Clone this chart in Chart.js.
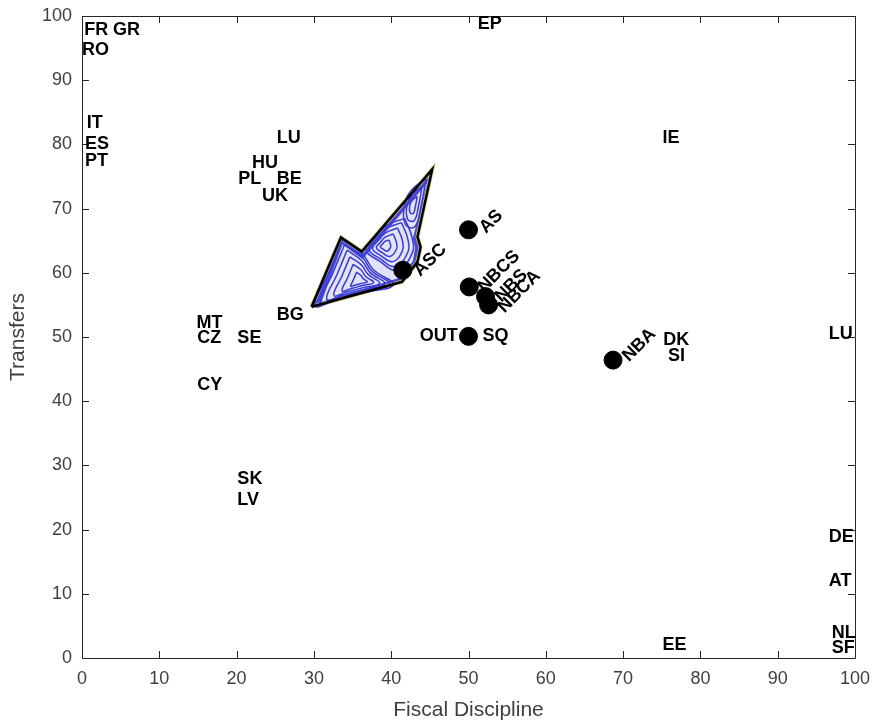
<!DOCTYPE html>
<html><head><meta charset="utf-8">
<script src="https://cdn.jsdelivr.net/npm/chart.js"></script>
<style>html,body{margin:0;padding:0;background:#fff;overflow:hidden}</style>
</head><body>
<canvas id="c" width="873" height="721"></canvas>
<script>
// ---- data ----
const xTicks = [0,10,20,30,40,50,60,70,80,90,100];
const yTicks = [0,10,20,30,40,50,60,70,80,90,100];
const xTitle = 'Fiscal Discipline';
const yTitle = 'Transfers';

const countryNames = ['FR','GR','RO','IT','ES','PT','EP','LU','HU','PL','BE','UK','IE','MT','CZ','SE','CY','BG','SK','LV','DK','SI','LU','DE','AT','NL','SF','EE'];
const countryX = [0.3,4.0,0.0,0.6,0.4,0.4,51.2,25.2,22.0,20.2,25.2,23.3,75.1,14.8,14.9,20.1,14.9,25.2,20.1,20.1,75.2,75.8,96.6,96.6,96.6,97.0,97.0,75.1];
const countryY = [97.8,97.8,94.7,83.3,80.1,77.4,98.8,81.0,77.1,74.6,74.6,71.9,81.0,52.2,49.8,49.8,42.5,53.4,27.9,24.6,49.6,47.0,50.4,18.8,12.0,3.9,1.5,2.0];

const scenarioNames = ['ASC','AS','NBCS','NBS','NBCA','SQ','NBA'];
const scenarioX = [41.5,50.0,50.1,52.2,52.6,50.0,68.7];
const scenarioY = [60.4,66.7,57.8,56.3,55.0,50.1,46.4];
const scenarioLabelX = [43.3,51.8,51.6,53.8,54.2,51.8,70.3];
const scenarioLabelY = [59.9,66.6,57.4,55.9,54.2,50.1,46.6];
const scenarioLabelRot = [45,45,45,45,45,0,45];

const sideNames = ['OUT'];
const sideX = [48.6];
const sideY = [50.1];

// outline of the contour region
const outlineX = [29.7,33.5,36.2,45.3,43.4,43.8,43.4,41.4,29.7];
const outlineY = [54.7,65.5,63.3,76.1,65.6,64.0,61.7,58.6,54.7];
const innerX = [31.0,33.7,36.3,44.6,42.8,43.1,42.8,41.0,31.0];
const innerY = [55.5,64.4,62.1,73.9,65.4,63.9,61.8,59.2,55.5];

// contour lines
const contourRings = [
  [[35.52,60.09],[36.06,59.62],[36.37,59.09],[36.92,58.60],[36.14,58.35],[35.36,58.10],[34.77,57.91],[35.16,59.03]],
  [[35.08,61.32],[36.11,60.44],[36.70,59.43],[37.73,58.48],[36.26,58.01],[34.78,57.53],[33.65,57.18],[34.39,59.31]],
  [[34.66,62.49],[36.15,61.21],[37.01,59.75],[38.50,58.38],[36.37,57.69],[34.23,57.00],[32.59,56.49],[33.66,59.58]],
  [[34.29,63.52],[36.19,61.88],[37.28,60.03],[39.18,58.29],[36.47,57.41],[33.74,56.54],[31.66,55.88],[33.02,59.81]],
  [[33.97,64.41],[36.23,62.47],[37.51,60.27],[39.77,58.21],[36.55,57.17],[33.32,56.13],[30.85,55.36],[32.47,60.01]],
  [[33.70,65.16],[36.25,62.97],[37.71,60.48],[40.27,58.14],[36.62,56.96],[32.96,55.79],[30.16,54.91],[32.00,60.19]],
  [[39.69,65.10],[39.90,64.45],[39.90,63.92],[39.48,63.36],[38.96,63.67],[38.60,64.05],[38.86,64.45],[39.17,64.86]],
  [[40.26,66.04],[40.68,64.73],[40.68,63.67],[39.84,62.55],[38.81,63.17],[38.08,63.92],[38.60,64.73],[39.22,65.54]],
  [[40.83,66.97],[41.45,65.01],[41.45,63.42],[40.21,61.74],[38.65,62.68],[37.57,63.80],[38.34,65.01],[39.28,66.23]],
  [[41.34,67.81],[42.15,65.26],[42.15,63.20],[40.53,61.01],[38.51,62.23],[37.10,63.69],[38.11,65.26],[39.32,66.85]],
  [[41.74,68.47],[42.70,65.46],[42.70,63.02],[40.79,60.44],[38.40,61.88],[36.74,63.60],[37.92,65.46],[39.36,67.33]],
  [[43.37,71.89],[43.14,70.40],[42.87,69.28],[42.44,69.37],[42.40,70.49],[42.75,71.34]],
  [[43.99,73.39],[43.53,70.40],[42.98,68.16],[42.13,68.34],[42.05,70.59],[42.75,72.27]],
  [[44.51,74.63],[43.86,70.40],[43.08,67.22],[41.87,67.48],[41.76,70.66],[42.75,73.05]]
];

// ---- build datasets ----
const toPts = (xs, ys) => xs.map((v,i)=>({x:v, y:ys[i]}));
const datasets = [];
datasets.push({ data: toPts(scenarioX, scenarioY), backgroundColor:'#000', borderColor:'#000', pointRadius:9, pointHoverRadius:9, showLine:false, order:0 });
datasets.push({ data: toPts(outlineX, outlineY), showLine:true, borderColor:'#000', borderWidth:2.5, pointRadius:0, fill:false, tension:0, order:1, borderJoinStyle:'miter' });
contourRings.forEach(r=>{
  const pts = r.map(p=>({x:p[0], y:p[1]}));
  pts.push({x:r[0][0], y:r[0][1]});
  datasets.push({ data: pts, showLine:true, borderColor:'#3a3ad4', borderWidth:1.5, pointRadius:0, fill:false, tension:0.45, order:2 });
});
datasets.push({ data: toPts(innerX, innerY), showLine:true, borderWidth:0, borderColor:'rgba(0,0,0,0)', backgroundColor:'#e2e2f9', fill:'shape', pointRadius:0, tension:0, order:3 });
datasets.push({ data: toPts(outlineX, outlineY), showLine:true, borderColor:'#cfc878', borderWidth:4, backgroundColor:'#4848d8', fill:'shape', pointRadius:0, tension:0, order:4 });

const decor = {
  id:'decor',
  afterDatasetsDraw(chart){
    const {ctx, scales:{x, y}, chartArea:a} = chart;
    ctx.save();
    ctx.strokeStyle = '#262626';
    ctx.lineWidth = 1;
    ctx.beginPath();
    ctx.rect(Math.round(a.left)+0.5, Math.round(a.top)+0.5, Math.round(a.right-a.left), Math.round(a.bottom-a.top));
    const tl = 7;
    xTicks.forEach(v=>{
      const px = Math.round(x.getPixelForValue(v))+0.5;
      ctx.moveTo(px, a.bottom); ctx.lineTo(px, a.bottom-tl);
      ctx.moveTo(px, a.top); ctx.lineTo(px, a.top+tl);
    });
    yTicks.forEach(v=>{
      const py = Math.round(y.getPixelForValue(v))+0.5;
      ctx.moveTo(a.left, py); ctx.lineTo(a.left+tl, py);
      ctx.moveTo(a.right, py); ctx.lineTo(a.right-tl, py);
    });
    ctx.stroke();
    ctx.fillStyle = '#000';
    ctx.font = 'bold 18px "Liberation Sans", Arial, sans-serif';
    ctx.textBaseline = 'middle';
    ctx.textAlign = 'left';
    countryNames.forEach((n,i)=>{
      ctx.fillText(n, x.getPixelForValue(countryX[i]), y.getPixelForValue(countryY[i]));
    });
    scenarioNames.forEach((n,i)=>{
      ctx.save();
      ctx.translate(x.getPixelForValue(scenarioLabelX[i]), y.getPixelForValue(scenarioLabelY[i]));
      ctx.rotate(-scenarioLabelRot[i]*Math.PI/180);
      ctx.textAlign = 'left';
      ctx.fillText(n, 0, 0);
      ctx.restore();
    });
    ctx.textAlign = 'right';
    sideNames.forEach((n,i)=>{
      ctx.fillText(n, x.getPixelForValue(sideX[i]), y.getPixelForValue(sideY[i]));
    });
    ctx.restore();
  }
};

const fam = '"Liberation Sans", Arial, sans-serif';
const tickFont = {family:fam, size:18};
new Chart(document.getElementById('c'), {
  type:'scatter',
  data:{datasets},
  plugins:[decor],
  options:{
    responsive:false, animation:false, devicePixelRatio:1,
    layout:{padding:{left:0, top:16, right:18, bottom:0}},
    plugins:{legend:{display:false}, tooltip:{enabled:false}},
    scales:{
      x:{type:'linear', min:0, max:100,
        afterBuildTicks(s){ s.ticks = xTicks.map(v=>({value:v})); },
        afterFit(s){ s.height = 63; s.paddingLeft = 0; s.paddingRight = 0; },
        grid:{display:false, drawTicks:false}, border:{display:false},
        ticks:{autoSkip:false, maxRotation:0, padding:10, color:'#404040', font:tickFont},
        title:{display:true, text:xTitle, color:'#404040', font:{family:fam, size:21}, padding:{top:0,bottom:-2}}
      },
      y:{type:'linear', min:0, max:100,
        afterBuildTicks(s){ s.ticks = yTicks.map(v=>({value:v})); },
        afterFit(s){ s.width = 82; s.paddingTop = 0; s.paddingBottom = 0; },
        grid:{display:false, drawTicks:false}, border:{display:false},
        ticks:{autoSkip:false, padding:10, color:'#404040', font:tickFont},
        title:{display:true, text:yTitle, color:'#404040', font:{family:fam, size:21}, padding:{top:6,bottom:0}}
      }
    }
  }
});
</script>
</body></html>
